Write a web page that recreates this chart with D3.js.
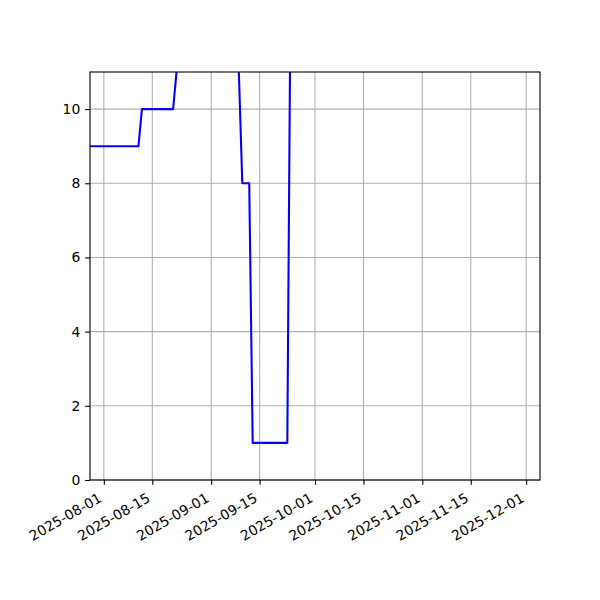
<!DOCTYPE html>
<html>
<head>
<meta charset="utf-8">
<script src="https://cdn.jsdelivr.net/npm/d3@7"></script>
<style>
  body { margin: 0; background: #fff; }
  svg text { font-family: "DejaVu Sans", sans-serif; font-size: 13.9px; fill: #000; }
</style>
</head>
<body>
<div id="chart"></div>
<script>
// data (daily steps, values above 11 are cut off)
var dates = ["2025-07-28", "2025-08-11", "2025-08-12", "2025-08-21", "2025-08-22",
             "2025-08-23", "2025-09-08", "2025-09-09", "2025-09-10", "2025-09-12",
             "2025-09-13", "2025-09-23", "2025-09-24"];
var values = [9, 9, 10, 10, 11, 14, 14, 11, 8, 8, 1, 1, 14];

var xTicks = ["2025-08-01", "2025-08-15", "2025-09-01", "2025-09-15", "2025-10-01",
              "2025-10-15", "2025-11-01", "2025-11-15", "2025-12-01"];
var yTicks = [0, 2, 4, 6, 8, 10];
var xRange = ["2025-07-28", "2025-12-05"];
var yRange = [0, 11];

var parse = d3.utcParse("%Y-%m-%d");

// set the dimensions and margins of the graph
var margin = {top: 72, right: 60, bottom: 120, left: 90},
    width = 600 - margin.left - margin.right,
    height = 600 - margin.top - margin.bottom;

var svg = d3.select("#chart")
    .append("svg")
    .attr("width", 600)
    .attr("height", 600)
    .append("g")
    .attr("transform", "translate(" + margin.left + "," + margin.top + ")");

var x = d3.scaleUtc()
    .domain(xRange.map(parse))
    .range([0, width]);

var y = d3.scaleLinear()
    .domain(yRange)
    .range([height, 0]);

// grid
svg.append("g")
    .selectAll("line")
    .data(xTicks)
    .enter().append("line")
    .attr("x1", function(d) { return x(parse(d)); })
    .attr("x2", function(d) { return x(parse(d)); })
    .attr("y1", 0)
    .attr("y2", height)
    .attr("stroke", "#b0b0b0")
    .attr("stroke-width", 1.1);

svg.append("g")
    .selectAll("line")
    .data(yTicks)
    .enter().append("line")
    .attr("x1", 0)
    .attr("x2", width)
    .attr("y1", function(d) { return y(d); })
    .attr("y2", function(d) { return y(d); })
    .attr("stroke", "#b0b0b0")
    .attr("stroke-width", 1.1);

// the line, clipped to the axes box
svg.append("clipPath")
    .attr("id", "clip")
    .append("rect")
    .attr("width", width)
    .attr("height", height);

var line = d3.line()
    .x(function(d, i) { return x(parse(dates[i])); })
    .y(function(d) { return y(d); });

svg.append("path")
    .datum(values)
    .attr("clip-path", "url(#clip)")
    .attr("fill", "none")
    .attr("stroke", "#0000ff")
    .attr("stroke-width", 2.08)
    .attr("stroke-linejoin", "round")
    .attr("d", line);

// X axis
var xAxis = svg.append("g")
    .attr("transform", "translate(0," + height + ")")
    .call(d3.axisBottom(x)
        .tickValues(xTicks.map(parse))
        .tickSize(4.86)
        .tickFormat(d3.utcFormat("%Y-%m-%d")));
xAxis.select(".domain").remove();
xAxis.selectAll(".tick line").attr("stroke", "#000").attr("stroke-width", 1.1);
xAxis.selectAll("text")
    .attr("x", 0)
    .attr("y", 0)
    .attr("dy", null)
    .attr("transform", "translate(-1.6,20.8)rotate(-30)")
    .style("text-anchor", "end");

// Y axis
var yAxis = svg.append("g")
    .call(d3.axisLeft(y)
        .tickValues(yTicks)
        .tickSize(4.86)
        .tickPadding(4.86));
yAxis.select(".domain").remove();
yAxis.selectAll(".tick line").attr("stroke", "#000").attr("stroke-width", 1.1);

// frame
svg.append("rect")
    .attr("width", width)
    .attr("height", height)
    .attr("fill", "none")
    .attr("stroke", "#000")
    .attr("stroke-width", 1.1);

svg.selectAll("text").style("font-family", "'DejaVu Sans', sans-serif").style("font-size", "13.9px");
</script>
</body>
</html>
